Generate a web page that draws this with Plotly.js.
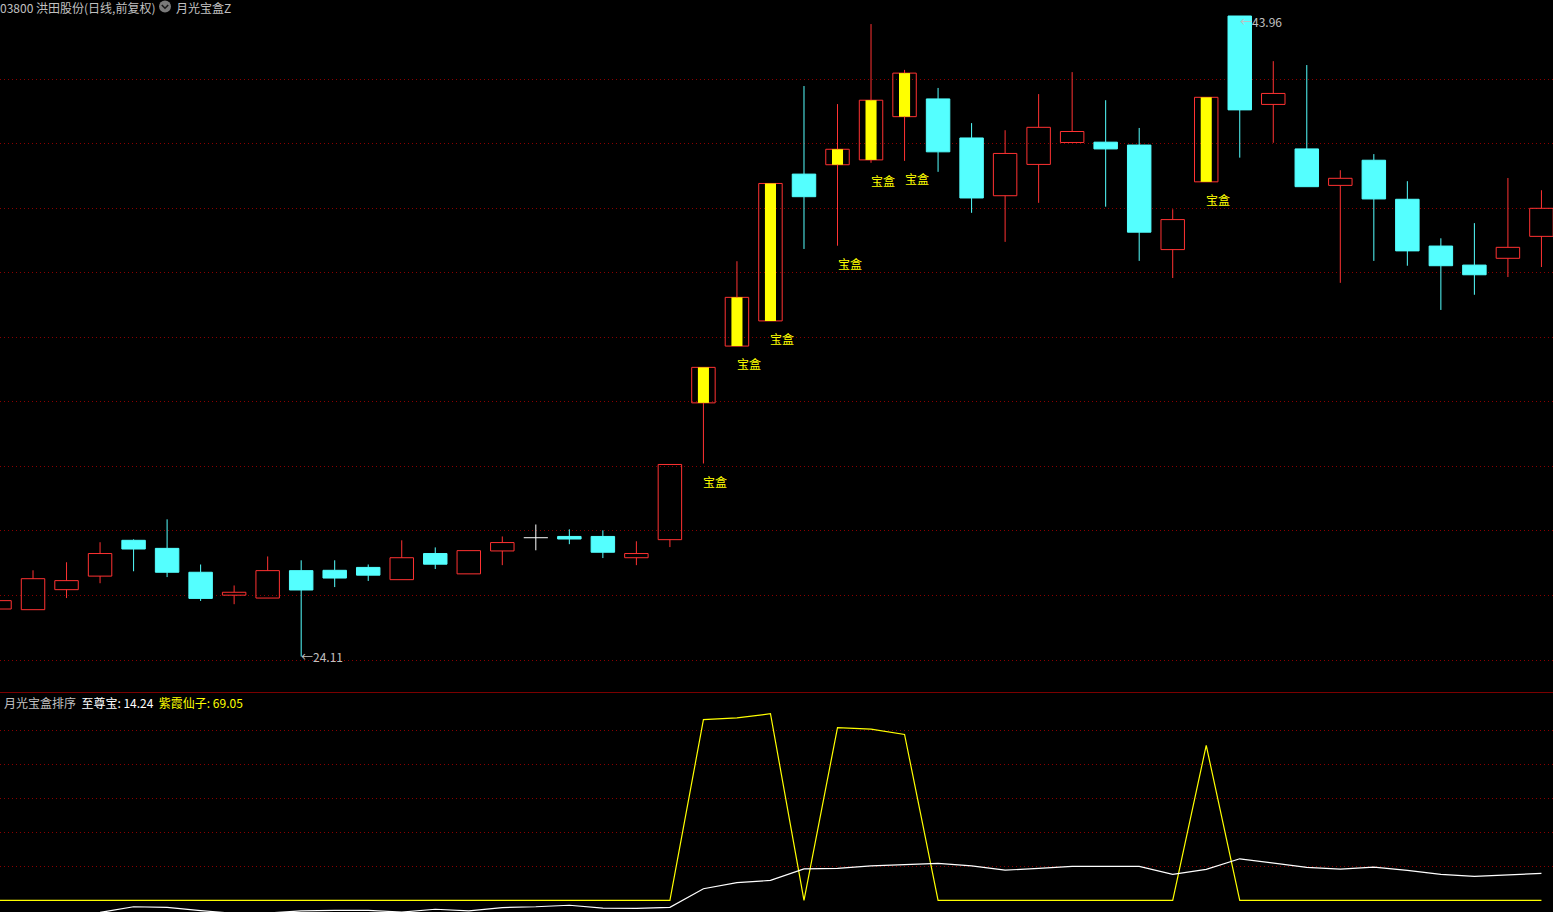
<!DOCTYPE html>
<html><head><meta charset="utf-8">
<script src="https://cdn.plot.ly/plotly-3.0.1.min.js"></script>
<style>html,body{margin:0;padding:0;background:#000;overflow:hidden}#chart{width:1553px;height:912px}</style>
</head><body><div id="chart"></div>
<script>
// ---- data (daily bars) ----
const openP  = [25.58,25.56,26.18,26.60,27.71,27.46,26.72,26.01,25.92,26.77,26.78,26.87,26.49,27.30,26.67,27.38,27.79,27.83,27.83,27.17,27.73,31.97,33.73,34.51,39.06,39.35,39.50,40.84,41.39,40.18,38.39,39.36,40.04,40.05,39.96,36.72,38.82,43.96,41.22,39.84,38.71,39.49,38.28,36.83,36.24,36.45,37.13];
const highP  = [25.84,26.78,27.03,27.65,27.74,28.36,26.96,26.31,27.21,27.09,27.09,26.96,27.71,27.49,27.39,27.83,28.20,28.05,28.02,27.68,30.06,33.07,36.36,38.77,41.79,41.23,43.71,42.29,41.73,40.64,40.42,41.54,42.22,41.35,40.49,37.97,41.44,43.96,42.56,42.44,39.18,39.68,38.84,37.07,37.54,38.94,38.56];
const lowP   = [25.58,25.56,25.92,26.38,26.75,26.57,25.83,25.73,25.92,24.11,26.26,26.45,26.49,26.82,26.67,26.94,27.40,27.59,27.16,26.94,27.50,30.09,33.73,34.51,36.74,36.84,39.41,39.47,39.13,37.86,36.96,38.17,40.04,38.05,36.37,35.84,38.82,39.57,40.03,38.67,35.69,36.37,36.22,34.85,35.32,35.87,36.18];
const closeP = [25.84,26.52,26.46,27.30,27.44,26.72,25.91,26.10,26.77,26.17,26.54,26.63,27.17,26.97,27.39,27.64,27.79,27.75,27.34,27.30,30.06,33.07,35.24,38.77,38.36,39.83,41.35,42.19,39.75,38.32,39.70,40.51,40.38,39.84,37.26,37.65,41.44,41.05,41.56,38.67,38.93,38.29,36.68,36.22,35.94,36.79,38.00];
// 1 = "宝盒" signal bar
const baohe  = [0,0,0,0,0,0,0,0,0,0,0,0,0,0,0,0,0,0,0,0,0,1,1,1,0,1,1,1,0,0,0,0,0,0,0,0,1,0,0,0,0,0,0,0,0,0,0];
// indicator panel 月光宝盒排序
const zhizunbao = [-7.2,-6.7,-7.2,-6.4,-3.4,-3.7,-5.4,-6.9,-6.7,-5.6,-5.3,-5.3,-6.2,-4.7,-5.6,-3.8,-3.4,-2.6,-4.1,-4.3,-3.7,6.1,9.3,10.5,16.6,16.8,18.2,18.9,19.5,18.2,15.9,16.8,17.9,17.9,17.9,13.7,16.3,21.9,19.5,17.4,16.5,17.5,15.8,13.7,12.6,13.3,14.24];
const zixia     = [0,0,0,0,0,0,0,0,0,0,0,0,0,0,0,0,0,0,0,0,0,95.3,96.2,98.4,0,91.1,90.3,87.5,0,0,0,0,0,0,0,0,81.7,0,0,0,0,0,0,0,0,0,0];
const gridPrices = [24,26,28,30,32,34,36,38,40,42];
const indGrid = [17.9,35.8,53.7,71.6,89.5];
const stockTitle = '03800 洪田股份(日线,前复权)';
const indicatorName = '月光宝盒Z';
const panelName = '月光宝盒排序';
const zName = '至尊宝', zLast = '14.24';
const xName = '紫霞仙子', xLast = '69.05';
const signalText = '宝盒';

// ---- styles ----
const W = 1553, H = 912;
const RED = '#ff3232', CYAN = '#54ffff', YEL = '#ffff00', GRAY = '#c0c0c0';
const GRID = '#8a0000';
const FONT = '"Noto Sans CJK SC", "Noto Sans", sans-serif';
const sepY = 692.5;
const px = x => x / W, py = y => 1 - y / H;

const idx = openP.map((_, i) => i);
const up = idx.filter(i => closeP[i] > openP[i]);
const dn = idx.filter(i => closeP[i] < openP[i]);
const flat = idx.filter(i => closeP[i] === openP[i]);
const bh = idx.filter(i => baohe[i] === 1);

function wicks(list, color) {
  const xs = [], ys = [];
  list.forEach(i => {
    const top = Math.max(openP[i], closeP[i]), bot = Math.min(openP[i], closeP[i]);
    if (highP[i] > top) { xs.push(i, i, null); ys.push(highP[i], top, null); }
    if (lowP[i] < bot) { xs.push(i, i, null); ys.push(bot, lowP[i], null); }
  });
  return {type:'scatter', mode:'lines', x:xs, y:ys, line:{color, width:1}, hoverinfo:'skip', xaxis:'x', yaxis:'y'};
}

const traces = [];
traces.push(wicks(up, RED));
traces.push(wicks(dn, CYAN));
traces.push(wicks(flat, '#ffffff'));
// doji horizontal strokes
{
  const xs = [], ys = [];
  flat.forEach(i => { xs.push(i - 0.36, i + 0.36, null); ys.push(openP[i], openP[i], null); });
  traces.push({type:'scatter', mode:'lines', x:xs, y:ys, line:{color:'#ffffff', width:1}, hoverinfo:'skip', xaxis:'x', yaxis:'y'});
}
// up bodies (hollow red)
traces.push({type:'bar', x:up, base:up.map(i => openP[i]), y:up.map(i => closeP[i] - openP[i]), width:0.70,
  marker:{color:'rgba(0,0,0,0)', line:{color:RED, width:1}}, hoverinfo:'skip', xaxis:'x', yaxis:'y'});
// down bodies (solid cyan)
traces.push({type:'bar', x:dn, base:dn.map(i => closeP[i]), y:dn.map(i => openP[i] - closeP[i]), width:0.70,
  marker:{color:CYAN, line:{color:CYAN, width:1}}, hoverinfo:'skip', xaxis:'x', yaxis:'y'});
// 宝盒 inner yellow bars
traces.push({type:'bar', x:bh, base:bh.map(i => openP[i]), y:bh.map(i => closeP[i] - openP[i]), width:0.33,
  marker:{color:YEL, line:{width:0}}, hoverinfo:'skip', xaxis:'x', yaxis:'y'});
// indicator lines
traces.push({type:'scatter', mode:'lines', x:idx, y:zixia, line:{color:YEL, width:1.2}, hoverinfo:'skip', xaxis:'x', yaxis:'y2'});
traces.push({type:'scatter', mode:'lines', x:idx, y:zhizunbao, line:{color:'#ffffff', width:1.2}, hoverinfo:'skip', xaxis:'x', yaxis:'y2'});

// annotations
const ann = [];
bh.forEach(i => ann.push({x:i, y:lowP[i], xref:'x', yref:'y', text:signalText, showarrow:false,
  xanchor:'left', yanchor:'middle', xshift:-2, yshift:-17.5, font:{family:FONT, size:12, color:YEL}}));
// extreme markers
const iMin = lowP.indexOf(Math.min(...lowP));
const iMax = highP.indexOf(Math.max(...highP));
ann.push({x:iMin, y:lowP[iMin], xref:'x', yref:'y', text:'←' + lowP[iMin].toFixed(2), showarrow:false,
  xanchor:'left', yanchor:'middle', xshift:-2, font:{family:FONT, size:12, color:GRAY}});
ann.push({x:iMax, y:highP[iMax], xref:'x', yref:'y', text:'←' + highP[iMax].toFixed(2), showarrow:false,
  xanchor:'left', yanchor:'middle', xshift:-2, yshift:-5, font:{family:FONT, size:12, color:GRAY}});
// header
ann.push({x:px(0), y:py(7.5), xref:'paper', yref:'paper', text:stockTitle, showarrow:false, xanchor:'left', yanchor:'middle',
  xshift:-2, font:{family:FONT, size:12, color:GRAY}});
ann.push({x:px(174), y:py(7.5), xref:'paper', yref:'paper', text:indicatorName, showarrow:false, xanchor:'left', yanchor:'middle',
  font:{family:FONT, size:12, color:GRAY}});
ann.push({x:px(2), y:py(702), xref:'paper', yref:'paper', showarrow:false, xanchor:'left', yanchor:'middle',
  text: panelName + '  <span style="color:#ffffff">' + zName + ': ' + zLast + '</span>  <span style="color:#ffff00">' + xName + ': ' + xLast + '</span>',
  font:{family:FONT, size:12, color:GRAY}});

const shapes = [
  {type:'line', xref:'paper', yref:'paper', x0:0, x1:1, y0:py(sepY), y1:py(sepY), line:{color:'#7a0000', width:1}},
  {type:'circle', xref:'paper', yref:'paper', x0:px(159), x1:px(171), y0:py(12.5), y1:py(0.5), fillcolor:'#7a7a7a', line:{width:0}},
  {type:'path', xref:'paper', yref:'paper',
   path:`M ${px(161.8)},${py(5)} L ${px(165)},${py(8.2)} L ${px(168.2)},${py(5)}`, line:{color:'#1a1a1a', width:1.6}}
];

const dom = (H - sepY) / H;
const layout = {
  width: W, height: H,
  margin:{l:0, r:0, t:0, b:0, pad:0},
  paper_bgcolor:'#000', plot_bgcolor:'#000',
  showlegend:false, barmode:'overlay',
  xaxis:{range:[0.015, 46.345], showgrid:false, zeroline:false, showticklabels:false, ticks:'', showline:false, anchor:'y2', fixedrange:true},
  yaxis:{domain:[dom, 1], range:[22.993, 44.456], tickmode:'array', tickvals:gridPrices, showticklabels:false, ticks:'',
    gridcolor:GRID, gridwidth:1, griddash:'1px,3px', zeroline:false, showline:false, fixedrange:true},
  yaxis2:{domain:[0, dom], range:[-6.16, 109.6], tickmode:'array', tickvals:indGrid, showticklabels:false, ticks:'',
    gridcolor:GRID, gridwidth:1, griddash:'1px,3px', zeroline:false, showline:false, fixedrange:true},
  annotations: ann,
  shapes: shapes,
  font:{family:FONT}
};
Plotly.newPlot('chart', traces, layout, {staticPlot:true, displayModeBar:false});
</script>
</body></html>
